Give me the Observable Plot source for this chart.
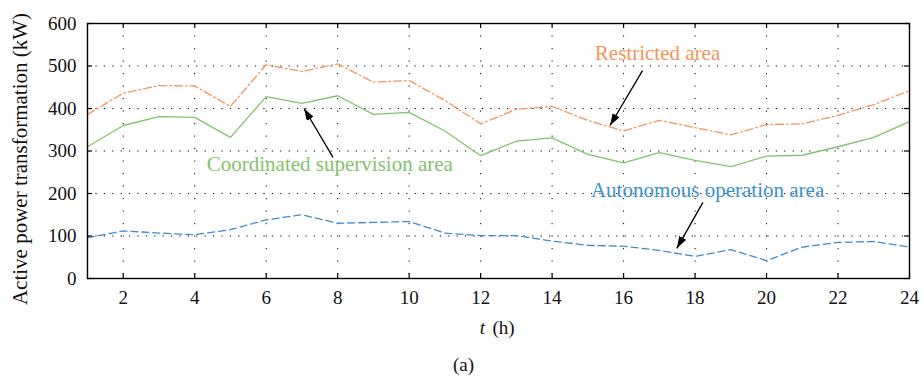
<!DOCTYPE html>
<html>
<head>
<meta charset="utf-8">
<script src="https://cdn.jsdelivr.net/npm/d3@7"></script>
<script src="https://cdn.jsdelivr.net/npm/@observablehq/plot@0.6"></script>
<style>
  html, body { margin: 0; padding: 0; background: #fff; }
  #chart svg { display: block; font-family: "Liberation Serif", "DejaVu Serif", serif !important; }
  #chart svg text { font-family: "Liberation Serif", "DejaVu Serif", serif !important; }
</style>
</head>
<body>
<div id="chart"></div>
<script>
const hours = d3.range(1, 25);
const coordinated = [310, 360, 381, 379, 332, 428, 412, 430, 386, 391, 347, 289, 323, 331, 292, 272, 296, 278, 263, 288, 290, 310, 332, 369];
const restricted  = [386, 436, 454, 453, 405, 503, 487, 505, 462, 466, 419, 364, 398, 405, 372, 347, 372, 355, 338, 362, 364, 384, 409, 442];
const autonomous  = [96, 112, 107, 103, 115, 138, 150, 130, 132, 134, 107, 101, 101, 88, 78, 76, 66, 52, 68, 42, 74, 85, 87, 74];
const xTicks = [2, 4, 6, 8, 10, 12, 14, 16, 18, 20, 22, 24];
const yTicks = [0, 100, 200, 300, 400, 500, 600];
const xGrid = [2, 4, 6, 8, 10, 12, 14, 16, 18, 20, 22];
const yGrid = [100, 200, 300, 400, 500];

const colors = {restricted: "#f5955a", coordinated: "#82c46c", autonomous: "#3a8fd4"};

const labels = [
  {text: "Restricted area", x: 16.95, y: 529, color: colors.restricted},
  {text: "Coordinated supervision area", x: 7.78, y: 268, color: colors.coordinated},
  {text: "Autonomous operation area", x: 18.35, y: 207, color: colors.autonomous}
];
const arrows = [
  {x1: 16.53, y1: 489, x2: 15.62, y2: 360},
  {x1: 7.87, y1: 285, x2: 7.06, y2: 400},
  {x1: 18.22, y1: 179, x2: 17.49, y2: 71}
];

const toRows = (vals) => hours.map((h, i) => ({h, v: vals[i]}));

function filledArrow(color, context) {
  const m = d3.create("svg:marker")
    .attr("viewBox", "0 -4 12 8")
    .attr("markerWidth", 12)
    .attr("markerHeight", 8)
    .attr("refX", 12)
    .attr("refY", 0)
    .attr("orient", "auto")
    .attr("markerUnits", "userSpaceOnUse")
    .attr("fill", "black")
    .attr("stroke", "none");
  m.append("path").attr("d", "M0,-4L12,0L0,4Z");
  return m.node();
}

const font = "Liberation Serif";

const chart = Plot.plot({
  width: 923,
  height: 379,
  marginTop: 23,
  marginLeft: 87,
  marginRight: 14,
  marginBottom: 101,
  style: {fontFamily: font, fontSize: "19px", color: "#111", background: "#fff"},
  x: {domain: [1, 24]},
  y: {domain: [0, 600]},
  marks: [
    Plot.ruleY(yGrid, {y: d => d, stroke: "#000", strokeWidth: 1, strokeDasharray: "1.2,7.2"}),
    Plot.ruleX(xGrid, {x: d => d, stroke: "#000", strokeWidth: 1, strokeDasharray: "1.2,11.3"}),
    Plot.line(toRows(restricted), {x: "h", y: "v", stroke: colors.restricted, strokeWidth: 1.3, strokeDasharray: "8,3,1.6,3"}),
    Plot.line(toRows(coordinated), {x: "h", y: "v", stroke: colors.coordinated, strokeWidth: 1.3}),
    Plot.line(toRows(autonomous), {x: "h", y: "v", stroke: colors.autonomous, strokeWidth: 1.3, strokeDasharray: "7,4"}),
    Plot.link(arrows, {x1: "x1", y1: "y1", x2: "x2", y2: "y2", stroke: "#000", strokeWidth: 1.3, markerEnd: filledArrow}),
    Plot.text(labels, {x: "x", y: "y", text: "text", fill: d => d.color, fontSize: 21, fontFamily: font, textAnchor: "middle"}),
    // inward ticks
    Plot.ruleX(xTicks, {x: d => d, insetTop: 250, stroke: "#000", strokeWidth: 1.2}),
    Plot.ruleX(xTicks, {x: d => d, insetBottom: 250, stroke: "#000", strokeWidth: 1.2}),
    Plot.ruleY(yTicks, {y: d => d, insetRight: 817, stroke: "#000", strokeWidth: 1.2}),
    Plot.ruleY(yTicks, {y: d => d, insetLeft: 817, stroke: "#000", strokeWidth: 1.2}),
    Plot.frame({stroke: "#000", strokeWidth: 1.4}),
    Plot.axisX({ticks: xTicks, tickSize: 0, tickPadding: 12, label: null, fontSize: 19, fontFamily: font}),
    Plot.axisY({ticks: yTicks, tickSize: 0, tickPadding: 11, label: null, fontSize: 19, fontFamily: font}),
    Plot.text(["Active power transformation (kW)"], {frameAnchor: "left", dx: -67, dy: 8, rotate: -90, textAnchor: "middle", lineAnchor: "middle", fontSize: 21, fontFamily: font}),
    Plot.text(["t"], {frameAnchor: "bottom", dx: -16, dy: 55, fontStyle: "italic", fontSize: 19, fontFamily: font}),
    Plot.text(["(h)"], {frameAnchor: "bottom", dx: 5, dy: 55, fontSize: 19, fontFamily: font}),
    Plot.text(["(a)"], {frameAnchor: "bottom", dx: -35, dy: 92, fontSize: 19, fontFamily: font})
  ]
});
document.getElementById("chart").appendChild(chart);
</script>
</body>
</html>
